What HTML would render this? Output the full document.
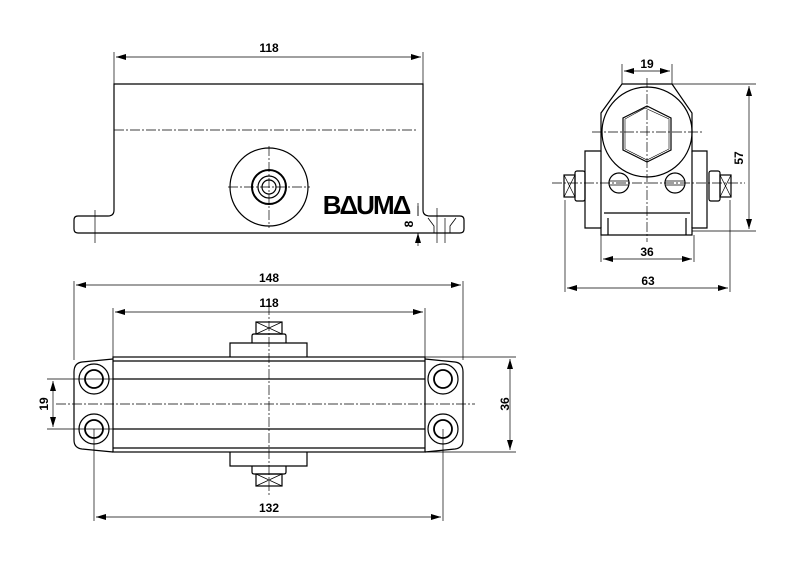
<!DOCTYPE html>
<html><head><style>body{margin:0;background:#fff}svg{display:block}text{font-family:"Liberation Sans",sans-serif;font-weight:bold;font-size:12px;fill:#000}</style></head><body>
<svg width="808" height="588" viewBox="0 0 808 588" xmlns="http://www.w3.org/2000/svg">
<defs><marker id="a" viewBox="0 0 10 6" refX="10" refY="3" markerWidth="10" markerHeight="6" orient="auto-start-reverse" markerUnits="userSpaceOnUse"><path d="M0,0L10,3L0,6z" fill="#000"/></marker></defs>
<g stroke="#000" fill="none" stroke-width="1.2">
<path d="M114,84H423V210Q423,216 430,216H460Q464,216 464,220V229Q464,233 460,233H78Q74,233 74,229V220Q74,216 78,216H108Q114,216 114,210Z"/>
<circle cx="269" cy="187" r="39"/><circle cx="269" cy="187" r="17" stroke-width="2"/><circle cx="269" cy="187" r="11"/><circle cx="269" cy="187" r="7"/>
<path d="M428,218l6,8v7M456,218l-6,8v7" stroke-width="0.8"/>
</g>
<g stroke="#000" fill="none" stroke-width="0.7">
<path d="M114,52V84M423,52V84M95,210V243M437,208V243M445,218V243"/>
<path d="M114,130H416M269,146V228M228,187H310" stroke-dasharray="10,2,2,2"/>
<path d="M116,57H421" marker-start="url(#a)" marker-end="url(#a)"/>
<path d="M418,203V216M418,233V246" /><path d="M418,206V216M418,243V233" marker-end="url(#a)"/>
<path d="M622,64V84M672,64V84M672,84H756M692,231H756M601,235V262M694,235V262M565,200V292M730,200V292"/>
<path d="M624,71H670" marker-start="url(#a)" marker-end="url(#a)"/>
<path d="M749,86V229" marker-start="url(#a)" marker-end="url(#a)"/>
<path d="M603,259H692" marker-start="url(#a)" marker-end="url(#a)"/>
<path d="M567,288H728" marker-start="url(#a)" marker-end="url(#a)"/>
<path d="M592,132H702M647,78V242M552,183H745" stroke-dasharray="10,2,2,2"/>
</g>
<g stroke="#000" fill="none" stroke-width="1.2">
<path d="M622,84H672L692,113V151H707V228H692V235H601V228H585V151H601V113Z"/>
<path d="M601,151V228M692,151V228M604,213H690M608,218V235M686,218V235"/>
<circle cx="647" cy="132" r="45"/>
<path d="M647,106L671,118V150L647,162L623,150V118Z"/><path d="M645,108L669,119V149L647,160L625,149V119Z" stroke-width="0.6"/>
<circle cx="619" cy="183" r="10"/><circle cx="675" cy="183" r="10"/>
<path d="M610,181H628M610,185H628M666,181H684M666,185H684" stroke-width="0.7"/>
<rect x="564" y="175" width="11" height="22"/><rect x="575" y="171" width="10" height="30" rx="2"/>
<rect x="720" y="175" width="11" height="22"/><rect x="709" y="171" width="11" height="30" rx="2"/>
<path d="M564,175L575,197M575,175L564,197M720,175L731,197M731,175L720,197" stroke-width="0.7"/>
</g>
<g stroke="#000" fill="none" stroke-width="1.2">
<rect x="113" y="357" width="312" height="95"/>
<path d="M113,361H425M113,379H425M113,429H425M113,448H425"/>
<path d="M113,359L82,362Q74,363 74,372V440Q74,448 82,449L113,452M425,359L455,362Q463,363 463,372V440Q463,448 455,449L425,452"/>
<circle cx="94" cy="379" r="15"/><circle cx="94" cy="379" r="9" stroke-width="1.8"/>
<circle cx="94" cy="429" r="15"/><circle cx="94" cy="429" r="9" stroke-width="1.8"/>
<circle cx="443" cy="379" r="15"/><circle cx="443" cy="379" r="9" stroke-width="1.8"/>
<circle cx="443" cy="429" r="15"/><circle cx="443" cy="429" r="9" stroke-width="1.8"/>
<path d="M230,357V343H307V357M230,452V466H307V452"/>
<path d="M252,343V336Q252,334 254,334H284Q286,334 286,336V343M252,466V472Q252,474 254,474H284Q286,474 286,472V466"/>
<rect x="256" y="322" width="26" height="12"/><rect x="256" y="474" width="26" height="12"/>
<path d="M256,322L282,334M282,322L256,334M256,474L282,486M282,474L256,486" stroke-width="0.7"/>
</g>
<g stroke="#000" fill="none" stroke-width="0.7">
<path d="M269,305V495M56,404H475" stroke-dasharray="10,2,2,2"/>
<path d="M74,281V360M463,281V360M113,308V357M425,308V357M47,379H113M47,429H113M425,357H516M425,452H516M94,429V521M443,429V521"/>
<path d="M76,285H461" marker-start="url(#a)" marker-end="url(#a)"/>
<path d="M115,312H423" marker-start="url(#a)" marker-end="url(#a)"/>
<path d="M53,381V427" marker-start="url(#a)" marker-end="url(#a)"/>
<path d="M510,359V450" marker-start="url(#a)" marker-end="url(#a)"/>
<path d="M96,517H441" marker-start="url(#a)" marker-end="url(#a)"/>
</g>
<text x="269" y="52" text-anchor="middle">118</text>
<text x="366" y="214" text-anchor="middle" style="font-size:26px;font-weight:900;letter-spacing:-2px">BΔUMΔ</text>
<text transform="translate(413,224) rotate(-90)" text-anchor="middle">8</text>
<text x="647" y="68" text-anchor="middle">19</text>
<text transform="translate(743,158) rotate(-90)" text-anchor="middle">57</text>
<text x="647" y="256" text-anchor="middle">36</text>
<text x="648" y="285" text-anchor="middle">63</text>
<text x="269" y="282" text-anchor="middle">148</text>
<text x="269" y="307" text-anchor="middle">118</text>
<text transform="translate(48,404) rotate(-90)" text-anchor="middle">19</text>
<text transform="translate(509,404) rotate(-90)" text-anchor="middle">36</text>
<text x="269" y="512" text-anchor="middle">132</text>
</svg>
</body></html>
